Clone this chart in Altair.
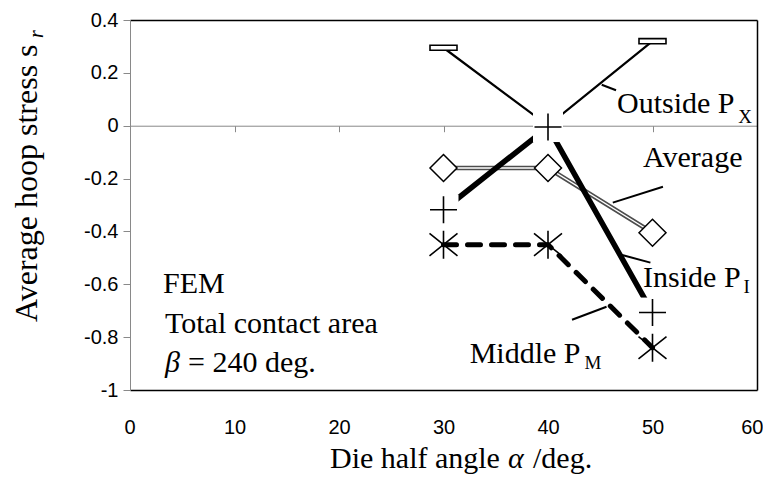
import altair as alt
import pandas as pd

# ---------------- data ----------------
angles = [30, 40, 50]
outside_px = [0.295, 0.0, 0.32]
average_s = [-0.16, -0.16, -0.405]
inside_pi = [-0.318, -0.005, -0.707]
middle_pm = [-0.45, -0.45, -0.84]

x_ticks = [0, 10, 20, 30, 40, 50, 60]
y_ticks = [-1.0, -0.8, -0.6, -0.4, -0.2, 0.0, 0.2, 0.4]

note_text = ["Outside P", "Average", "Inside P", "Middle P", "FEM", "Total contact area", "= 240 deg."]
note_x = [46.6, 49.1, 49.1, 32.5, 3.16, 3.35, 5.55]
note_y = [0.049, -0.155, -0.609, -0.897, -0.632, -0.783, -0.931]

sub_text = ["X", "I", "M"]
sub_x = [58.2, 58.7, 43.5]
sub_y = [0.011, -0.632, -0.919]

greek_text = ["\u03b2"]
greek_x = [3.35]
greek_y = [-0.931]

leader_x = [45.14, 46.2, 47.0, 42.3]
leader_x2 = [46.51, 51.0, 49.8, 45.6]
leader_y = [0.155, -0.291, -0.488, -0.734]
leader_y2 = [0.134, -0.231, -0.518, -0.685]

# ---------------- tables ----------------
df_out = pd.DataFrame({"angle": angles, "val": outside_px})
df_avg = pd.DataFrame({"angle": angles, "val": average_s})
df_in = pd.DataFrame({"angle": angles, "val": inside_pi})
df_mid = pd.DataFrame({"angle": angles, "val": middle_pm})
df_note = pd.DataFrame({"angle": note_x, "val": note_y, "t": note_text})
df_sub = pd.DataFrame({"angle": sub_x, "val": sub_y, "t": sub_text})
df_greek = pd.DataFrame({"angle": greek_x, "val": greek_y, "t": greek_text})
df_lead = pd.DataFrame({"x": leader_x, "x2": leader_x2, "y": leader_y, "y2": leader_y2})

W, H = 627, 370
SERIF = "'Liberation Serif', 'Times New Roman', Times, serif"
SANS = "'Liberation Sans', Arial, sans-serif"
GRAY = "#898989"

xs = alt.Scale(domain=[0, 60], nice=False, zero=False)
ys = alt.Scale(domain=[-1, 0.4], nice=False, zero=False)


def enc(ch, xaxis=None, yaxis=None):
    return ch.encode(
        x=alt.X("angle:Q", scale=xs, axis=xaxis),
        y=alt.Y("val:Q", scale=ys, axis=yaxis),
    )


ax_bottom = alt.Axis(orient="bottom", values=x_ticks, domainColor="black", domainWidth=1.5,
                     ticks=False, tickSize=0, labelFont=SANS, labelFontSize=20, labelColor="black",
                     labelBaseline="alphabetic", labelPadding=43, labelFlush=True,
                     labelFlushOffset=6, labelOverlap=False, grid=False, title=None)
ax_left = alt.Axis(orient="left", values=y_ticks, domainColor=GRAY, domainWidth=1, tickColor=GRAY,
                   tickWidth=1, tickSize=7, labelFont=SANS, labelFontSize=20, labelColor="black",
                   labelPadding=5, labelFlush=False, labelOverlap=False,
                   labelExpr="replace(format(datum.value, '.1~f'), '\u2212', '-')",
                   grid=False, title=None)
ax_top = alt.Axis(orient="top", domainColor="black", domainWidth=1.5, ticks=False, labels=False,
                  grid=False, title=None)
ax_right = alt.Axis(orient="right", domainColor="black", domainWidth=1.5, ticks=False, labels=False,
                    grid=False, title=None)
ax_zero = alt.Axis(orient="bottom", offset=-(H - H * 0.4 / 1.4), values=x_ticks, domainColor=GRAY,
                   domainWidth=1, tickColor=GRAY, tickSize=6, labels=False, grid=False, title=None)

frame = enc(alt.Chart(df_out).mark_point(opacity=0), ax_top, ax_right)
zero_axis = enc(alt.Chart(df_out).mark_point(opacity=0), ax_zero, None)

out_line = enc(alt.Chart(df_out).mark_line(color="black", strokeWidth=2.2), ax_bottom, ax_left)
avg_outer = enc(alt.Chart(df_avg).mark_line(color="#4d4d4d", strokeWidth=4.5))
avg_inner = enc(alt.Chart(df_avg).mark_line(color="white", strokeWidth=1.4))
in_line = enc(alt.Chart(df_in).mark_line(color="black", strokeWidth=5.5))
mid_line = enc(alt.Chart(df_mid).mark_line(color="black", strokeWidth=5, strokeDash=[13, 11],
                                           strokeCap="round"))

rect_shape = "M -1 -0.19 L 1 -0.19 L 1 0.19 L -1 0.19 Z"
plus_shape = "M -1 0 L 1 0 M 0 -1 L 0 1"
star_shape = "M -1 -0.8 L 1 0.8 M -1 0.8 L 1 -0.8 M 0 -1 L 0 1"

out_mark = enc(alt.Chart(df_out).mark_point(shape=rect_shape, size=729, filled=True, fill="white",
                                            stroke="black", strokeWidth=1.6, opacity=1))
in_back = enc(alt.Chart(df_in).mark_point(shape="square", size=900, filled=True, color="white",
                                          opacity=1))
avg_mark = enc(alt.Chart(df_avg).mark_point(shape="diamond", size=729, filled=True, fill="white",
                                            stroke="black", strokeWidth=1.5, opacity=1))
in_mark = enc(alt.Chart(df_in).mark_point(shape=plus_shape, size=729, filled=False, color="black",
                                          strokeWidth=1.6, opacity=1))
mid_mark = enc(alt.Chart(df_mid).mark_point(shape=star_shape, size=784, filled=False, color="black",
                                            strokeWidth=1.6, opacity=1))

leaders = alt.Chart(df_lead).mark_rule(color="black", strokeWidth=2).encode(
    x=alt.X("x:Q", scale=xs, axis=None), x2="x2:Q",
    y=alt.Y("y:Q", scale=ys, axis=None), y2="y2:Q",
)

notes = enc(alt.Chart(df_note).mark_text(align="left", baseline="alphabetic", font=SERIF,
                                         fontSize=30, color="black")).encode(text="t:N")
subs = enc(alt.Chart(df_sub).mark_text(align="left", baseline="alphabetic", font=SERIF,
                                       fontSize=19, color="black")).encode(text="t:N")
greek = enc(alt.Chart(df_greek).mark_text(align="left", baseline="alphabetic", font=SERIF,
                                          fontStyle="italic", fontSize=30, color="black")).encode(text="t:N")

ytitle = alt.Chart(pd.DataFrame({"t": ["Average hoop stress s"]})).mark_text(
    angle=270, align="left", baseline="alphabetic", font=SERIF, fontSize=32, color="black"
).encode(x=alt.value(-93), y=alt.value(302), text="t:N")
ytitle_sub = alt.Chart(pd.DataFrame({"t": ["r"]})).mark_text(
    angle=270, align="center", baseline="alphabetic", font=SERIF, fontStyle="italic",
    fontSize=20, color="black"
).encode(x=alt.value(-87), y=alt.value(14), text="t:N")

xt1 = alt.Chart(pd.DataFrame({"t": ["Die half angle"]})).mark_text(
    align="left", baseline="alphabetic", font=SERIF, fontSize=30, color="black"
).encode(x=alt.value(200), y=alt.value(448), text="t:N")
xt2 = alt.Chart(pd.DataFrame({"t": ["\u03b1"]})).mark_text(
    align="left", baseline="alphabetic", font=SERIF, fontStyle="italic", fontSize=30, color="black"
).encode(x=alt.value(378), y=alt.value(448), text="t:N")
xt3 = alt.Chart(pd.DataFrame({"t": ["/deg."]})).mark_text(
    align="left", baseline="alphabetic", font=SERIF, fontSize=30, color="black"
).encode(x=alt.value(403), y=alt.value(448), text="t:N")

chart = alt.layer(
    out_line, frame, zero_axis,
    avg_outer, avg_inner, in_line, mid_line,
    out_mark, in_back, avg_mark, in_mark, mid_mark,
    leaders, notes, subs, greek,
    ytitle, ytitle_sub, xt1, xt2, xt3,
).resolve_axis(
    x="independent", y="independent"
).properties(
    width=W, height=H,
    padding={"left": 122, "top": 12, "right": 6, "bottom": 91},
    autosize=alt.AutoSizeParams(type="none"),
).configure_view(strokeOpacity=0)

chart.save("out.html", embed_options={"renderer": "svg", "actions": False})
